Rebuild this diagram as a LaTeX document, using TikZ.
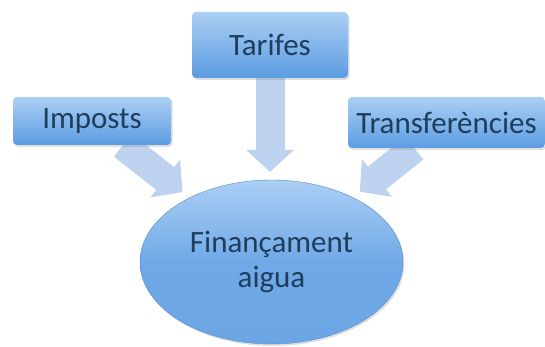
\documentclass[tikz,border=0pt]{standalone}
\usepackage{fontspec}
\setmainfont{Carlito}
\usepackage{tikz}
\usetikzlibrary{shapes.geometric,arrows.meta,backgrounds,shadows}

\definecolor{boxtop}{HTML}{ABCFF4}
\definecolor{boxbot}{HTML}{5C9CE2}
\definecolor{ink}{HTML}{1F3D5C}
\definecolor{flowfill}{HTML}{BDD2EE}

\begin{document}
\begin{tikzpicture}[x=1pt, y=-1pt,
	every box/.style={rectangle, rounded corners=4pt, top color=boxtop, bottom color=boxbot,
		text=ink, font=\fontsize{31}{34}\selectfont, inner sep=0pt,
		drop shadow={shadow xshift=1.5pt, shadow yshift=-2pt, opacity=0.25}},
	goal/.style={ellipse, top color=boxtop, bottom color=boxbot!90, middle color=boxbot!75!boxtop,
		draw=boxbot!90!black, line width=0.4pt, text=ink, align=center,
		font=\fontsize{31}{35}\selectfont, inner sep=0pt,
		minimum width=263pt, minimum height=164pt,
		drop shadow={shadow xshift=1.5pt, shadow yshift=-2pt, opacity=0.25}},
	flow/.style={draw=flowfill, line width=29pt, -{Triangle[length=22pt,width=47pt]}}]

	\useasboundingbox (0,0) rectangle (545,347);

	\foreach \n/\l/\x/\y/\w/\h in {imposts/Imposts/92/121/158/48,
		tarifes/Tarifes/270/45/156/66,
		transf/Transferències/446.5/122.5/197/51}
	\node [every box, minimum width=\w pt, minimum height=\h pt] (\n) at (\x,\y) {\l};

	\node [goal] (fin) at (271.5,262) {Finançament\\aigua};

	% block arrows sit behind the boxes
	\begin{scope}[on background layer]
		\foreach \n/\t/\s in {imposts/fin/9, tarifes/{tarifes|-fin.north}/8, transf/fin/9}
		\draw [flow, shorten >=\s pt] (\n) -- (\t);
	\end{scope}

\end{tikzpicture}
\end{document}
